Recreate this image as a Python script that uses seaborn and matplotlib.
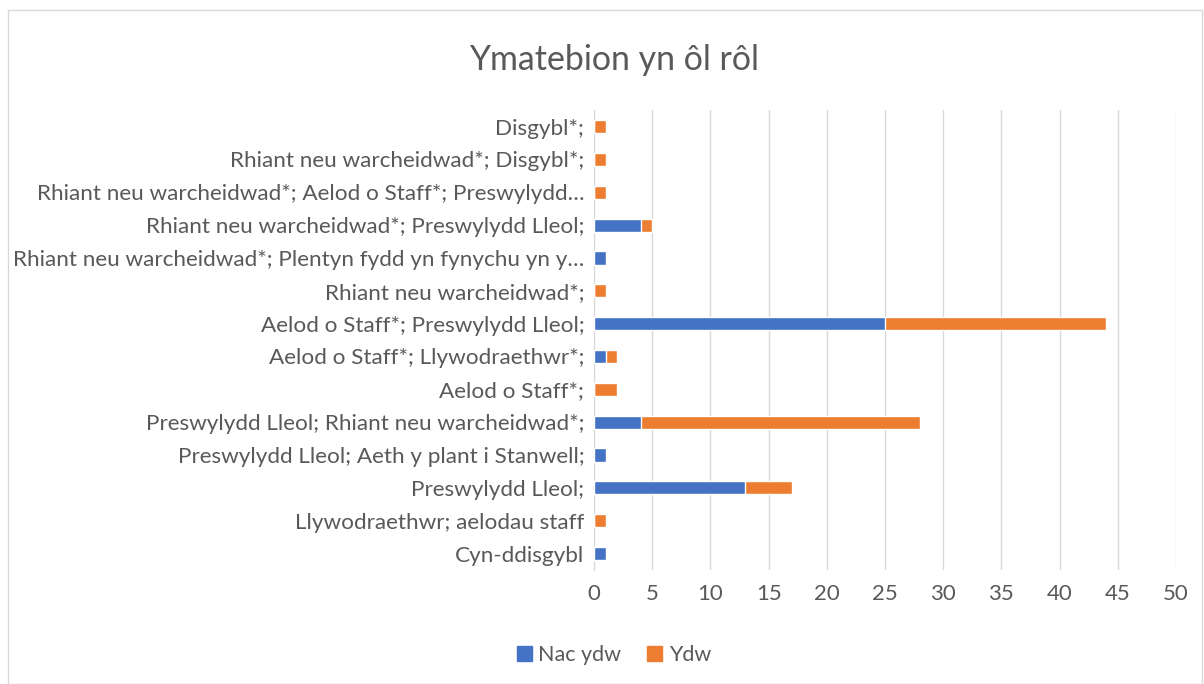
import matplotlib.pyplot as plt
import matplotlib.patches as mpatches
import seaborn as sns
import pandas as pd

categories = [
    "Disgybl*;",
    "Rhiant neu warcheidwad*; Disgybl*;",
    "Rhiant neu warcheidwad*; Aelod o Staff*; Preswylydd…",
    "Rhiant neu warcheidwad*; Preswylydd Lleol;",
    "Rhiant neu warcheidwad*; Plentyn fydd yn fynychu yn y…",
    "Rhiant neu warcheidwad*;",
    "Aelod o Staff*; Preswylydd Lleol;",
    "Aelod o Staff*; Llywodraethwr*;",
    "Aelod o Staff*;",
    "Preswylydd Lleol; Rhiant neu warcheidwad*;",
    "Preswylydd Lleol; Aeth y plant i Stanwell;",
    "Preswylydd Lleol;",
    "Llywodraethwr; aelodau staff",
    "Cyn-ddisgybl",
]
nac_ydw = [0, 0, 0, 4, 1, 0, 25, 1, 0, 4, 1, 13, 0, 1]
ydw = [1, 1, 1, 1, 0, 1, 19, 1, 2, 24, 0, 4, 1, 0]

blue = "#4472C4"
orange = "#ED7D31"
grey = "#595959"

df = pd.DataFrame({"cat": categories, "nac": nac_ydw, "ydw": ydw})
df["total"] = df["nac"] + df["ydw"]

sns.set_style("white")
plt.rcParams["font.family"] = ["Lato", "DejaVu Sans"]

fig = plt.figure(figsize=(12.04, 6.84), dpi=100)
ax = fig.add_axes([0.4934, 0.1667, 0.4833, 0.6723])

sns.barplot(data=df, y="cat", x="total", color=orange, orient="h", width=0.4,
            saturation=1, ax=ax, zorder=3)
sns.barplot(data=df, y="cat", x="nac", color=blue, orient="h", width=0.4,
            saturation=1, ax=ax, zorder=4)

ax.set_xlim(0, 50)
ax.set_xticks(range(0, 51, 5))
ax.set_ylim(len(categories) - 0.5, -0.5)
ax.set_xlabel("")
ax.set_ylabel("")
ax.grid(axis="x", color="#d9d9d9", linewidth=1, zorder=0)
for s in ["top", "right", "bottom"]:
    ax.spines[s].set_visible(False)
ax.spines["left"].set_color("#d9d9d9")
ax.tick_params(axis="y", length=0, labelsize=16.2, labelcolor=grey, pad=7)
ax.tick_params(axis="x", length=0, labelsize=16, labelcolor=grey, pad=10)

fig.text(0.51, 0.913, "Ymatebion yn ôl rôl", ha="center", va="center",
         fontsize=24.4, color=grey)

handles = [mpatches.Patch(color=blue, label="Nac ydw"),
           mpatches.Patch(color=orange, label="Ydw")]
fig.legend(handles=handles, loc="center", bbox_to_anchor=(0.51, 0.042), ncol=2,
           frameon=False, fontsize=15.5, labelcolor=grey, handlelength=0.7,
           handleheight=0.7, handletextpad=0.3, columnspacing=1.2)

fig.patches.append(mpatches.Rectangle((0.007, 0.0), 0.991, 0.985, transform=fig.transFigure,
                                      fill=False, edgecolor="#d9d9d9", linewidth=1))

fig.savefig("out.png", dpi=100)
